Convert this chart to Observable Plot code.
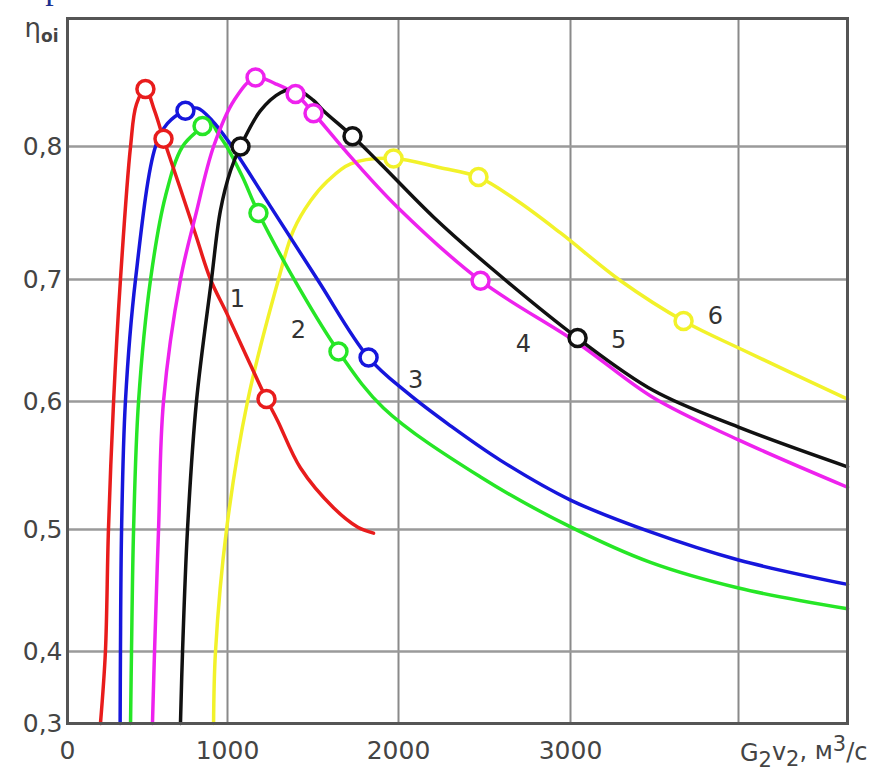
<!DOCTYPE html>
<html>
<head>
<meta charset="utf-8">
<script src="https://cdn.jsdelivr.net/npm/d3@7"></script>
<script src="https://cdn.jsdelivr.net/npm/@observablehq/plot@0.6"></script>
<style>
  html, body { margin: 0; padding: 0; background: #fff; overflow: hidden; }
  #wrap { position: relative; width: 882px; height: 776px; }
  #frag { position: absolute; left: 24px; top: -31px; font: 34px "Liberation Serif", serif; color: #1c2f8f; letter-spacing: 6px; }
</style>
</head>
<body>
<div id="wrap"><div id="frag">тр</div></div>
<script>
// Series (curve numbers) and their colours
const seriesNames = ["1", "2", "3", "4", "5", "6"];
const seriesColors = ["#e81c1c", "#26e626", "#1616dc", "#ee22ee", "#111111", "#f2f22a"];
const drawOrder = ["6", "2", "3", "1", "4", "5"];

// Curve points [G2v2 (m3/s), efficiency]
const curve1 = [[206,0.3],[237,0.4],[256,0.5],[288,0.6],[331,0.7],[394,0.8],[431,0.833],[487,0.845],[544,0.828],[600,0.806],[706,0.768],[800,0.734],[894,0.7],[1000,0.671],[1105,0.639],[1228,0.602],[1293,0.585],[1427,0.548],[1620,0.517],[1760,0.502],[1854,0.497]];
const curve2 = [[394,0.3],[400,0.4],[413,0.5],[444,0.6],[519,0.7],[613,0.763],[719,0.8],[844,0.816],[881,0.822],[937,0.811],[1000,0.799],[1088,0.777],[1181,0.75],[1427,0.691],[1649,0.641],[1912,0.595],[2477,0.541],[3000,0.502],[3476,0.473],[4000,0.452],[4640,0.435]];
const curve3 = [[329,0.3],[331,0.4],[338,0.5],[362,0.6],[425,0.7],[550,0.8],[625,0.818],[737,0.828],[812,0.83],[906,0.82],[1000,0.805],[1251,0.755],[1526,0.7],[1825,0.636],[2052,0.607],[2302,0.581],[2593,0.554],[3000,0.523],[3476,0.498],[4000,0.475],[4640,0.455]];
const curve4 = [[531,0.3],[544,0.4],[569,0.5],[600,0.6],[706,0.7],[800,0.748],[913,0.8],[1038,0.836],[1164,0.854],[1281,0.849],[1398,0.841],[1503,0.826],[1722,0.792],[1997,0.754],[2477,0.699],[3042,0.648],[3494,0.603],[4000,0.57],[4640,0.533]];
const curve5 = [[706,0.3],[719,0.4],[750,0.5],[806,0.6],[900,0.7],[956,0.752],[1018,0.782],[1076,0.8],[1193,0.828],[1310,0.842],[1398,0.845],[1503,0.836],[1561,0.828],[1731,0.808],[1895,0.787],[2203,0.747],[2535,0.709],[3042,0.652],[3494,0.609],[4000,0.58],[4640,0.549]];
const curve6 = [[913,0.3],[925,0.4],[994,0.5],[1117,0.6],[1298,0.7],[1386,0.737],[1485,0.759],[1585,0.774],[1720,0.787],[1971,0.791],[2244,0.784],[2465,0.777],[2692,0.759],[2942,0.735],[3298,0.699],[3673,0.666],[4029,0.642],[4640,0.602]];

// Circle markers on each curve
const markers1 = [[487,0.845],[600,0.806],[1228,0.602]];
const markers2 = [[844,0.816],[1181,0.75],[1649,0.641]];
const markers3 = [[737,0.828],[1825,0.636]];
const markers4 = [[1164,0.854],[1398,0.841],[1503,0.826],[2477,0.699]];
const markers5 = [[1076,0.8],[1731,0.808],[3042,0.652]];
const markers6 = [[1971,0.791],[2465,0.777],[3673,0.666]];

// Curve number labels
const labelX = [1058, 1415, 2099, 2726, 3286, 3863];
const labelY = [0.684, 0.658, 0.617, 0.647, 0.650, 0.670];

// Axis ticks
const xTickLabels = [0, 1000, 2000, 3000];
const xGrid = [1000, 2000, 3000, 4000];
const yTickLabels = [0.3, 0.4, 0.5, 0.6, 0.7, 0.8];
const yGrid = [0.4, 0.5, 0.6, 0.7, 0.8];
// Axis titles as [text, role] parts: role "sub" = subscript, "sup" = superscript
const xTitleParts = [["G", ""], ["2", "sub"], ["v", ""], ["2", "sub"], [", м", ""], ["3", "sup"], ["/с", ""]];
const yTitleParts = [["η", ""], ["oi", "sub"]];

const curves = {"1": curve1, "2": curve2, "3": curve3, "4": curve4, "5": curve5, "6": curve6};
const markers = {"1": markers1, "2": markers2, "3": markers3, "4": markers4, "5": markers5, "6": markers6};

const lineRows = drawOrder.flatMap(s => curves[s].map(([x, y]) => ({s, x, y})));
const dotRows = drawOrder.flatMap(s => markers[s].map(([x, y]) => ({s, x, y})));
const labelRows = seriesNames.map((s, i) => ({s, x: labelX[i], y: labelY[i]}));

const fmt = d => d.toFixed(1).replace(".", ",");
const xTitle = xTitleParts.map(p => p[0]).join("");
const yTitle = yTitleParts.map(p => p[0]).join("");

const chart = Plot.plot({
  width: 882,
  height: 776,
  marginLeft: 67, marginRight: 35, marginTop: 18, marginBottom: 53,
  style: {fontFamily: "DejaVu Sans", fontSize: "25px", color: "#444", background: "transparent"},
  x: {type: "linear", domain: [0, 1000, 2000, 3000, 4000, 4640], range: [67, 227, 398, 570, 738, 847]},
  y: {type: "linear", domain: [0.3, 0.4, 0.5, 0.6, 0.7, 0.8, 0.9], range: [723, 651, 529, 401, 279, 146, 18]},
  color: {domain: seriesNames, range: seriesColors},
  marks: [
    Plot.gridX(xGrid, {stroke: "#8a8a8a", strokeOpacity: 1, strokeWidth: 2}),
    Plot.gridY(yGrid, {stroke: "#9a9a9a", strokeOpacity: 1, strokeWidth: 2.5}),
    Plot.line(lineRows, {x: "x", y: "y", z: "s", stroke: "s", strokeWidth: 3.5, curve: "catmull-rom"}),
    Plot.dot(dotRows, {x: "x", y: "y", r: 8.5, fill: "white", stroke: "s", strokeWidth: 3.5}),
    Plot.frame({stroke: "#555", strokeWidth: 3}),
    Plot.text(labelRows, {x: "x", y: "y", text: "s", fill: "#333", fontSize: 24}),
    Plot.axisX(xTickLabels, {label: null, tickSize: 0, tickPadding: 18, fontSize: 25, fill: "#444", tickFormat: d => String(d)}),
    Plot.axisY(yTickLabels, {label: null, tickSize: 0, tickPadding: 5, fontSize: 25, fill: "#444", tickFormat: fmt}),
    Plot.text([xTitle], {frameAnchor: "bottom-right", dx: 20, dy: 37, textAnchor: "end", fontSize: 24, fill: "#444", className: "xtitle"}),
    Plot.text([yTitle], {frameAnchor: "top-left", dx: -43, dy: 0, textAnchor: "start", fontSize: 26, fill: "#444", className: "ytitle"})
  ]
});

// Render sub/superscripts in the axis titles as tspans
function setParts(sel, parts, subSize) {
  sel.each(function() {
    const t = d3.select(this);
    t.text(null);
    let prev = "";
    for (const [txt, role] of parts) {
      const sp = t.append("tspan").text(txt);
      let shift = 0;
      if (role === "sub") shift = 0.32; else if (role === "sup") shift = -0.38;
      let back = prev === "sub" ? -0.32 : prev === "sup" ? 0.38 : 0;
      const dy = shift + back;
      if (dy) sp.attr("dy", dy + "em");
      if (role) sp.attr("font-size", subSize);
      if (role === "sub" && parts === yTitleParts) sp.attr("font-weight", "bold");
      prev = role;
    }
  });
}
setParts(d3.select(chart).selectAll(".xtitle text"), xTitleParts, 21);
setParts(d3.select(chart).selectAll(".ytitle text"), yTitleParts, 17);

chart.style.position = "absolute";
chart.style.left = "0px";
chart.style.top = "0px";
document.getElementById("wrap").appendChild(chart);
</script>
</body>
</html>
